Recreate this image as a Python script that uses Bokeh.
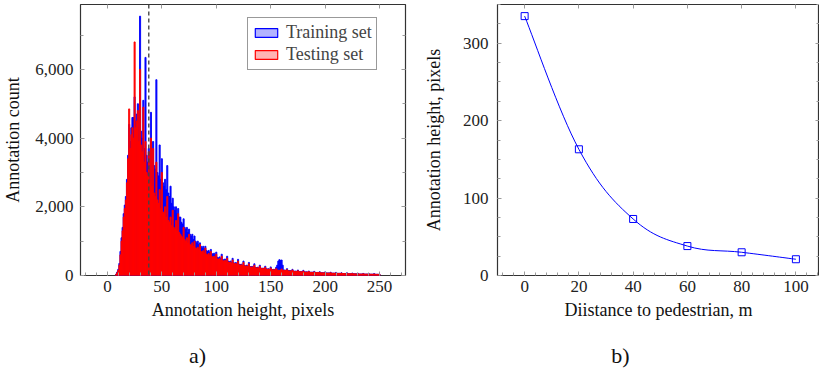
from bokeh.plotting import figure
from bokeh.layouts import row, column
from bokeh.models import (ColumnDataSource, Span, Legend, LegendItem, LinearAxis, Range1d,
                          SingleIntervalTicker, NumeralTickFormatter, Label,
                          CustomJSTickFormatter)
from bokeh.embed import file_html
from bokeh.resources import INLINE

FONT = "Liberation Serif"

# ---------------- data ----------------
# histogram: one bin per pixel of annotation height, first bin centred at bin_start
bin_start = 8
bin_width = 1
testing_counts = [
    30, 80, 150, 300, 600, 1000, 1300, 1700, 1950, 2200, 2700, 3400,
    4850, 3700, 4100, 4300, 4000, 6800, 4300, 4500, 4800, 3900,
    6000, 3800, 3600, 4900, 3300, 3900, 3000, 2900, 3600, 2700,
    4000, 2600, 3700, 2400, 2300, 3300, 2200, 2100, 2500, 1950,
    3000, 1850, 1800, 2000, 1700, 2300, 1600, 1550, 1700, 1450,
    1900, 1400, 1350, 1600, 1300, 1800, 1250, 1200, 1150, 1100,
    1400, 1050, 1000, 1100, 950, 1200, 900, 880, 950, 850,
    1000, 800, 780, 820, 750, 900, 700, 680, 720, 650,
    800, 620, 600, 640, 580, 700, 550, 530, 560, 510,
    620, 480, 470, 490, 450, 560, 430, 420, 440, 400,
    500, 390, 380, 390, 360, 450, 350, 340, 350, 320,
    420, 310, 300, 310, 290, 380, 280, 270, 280, 260,
    340, 250, 245, 250, 235, 300, 225, 220, 225, 210,
    270, 205, 200, 205, 195, 240, 185, 180, 185, 175,
    220, 170, 165, 170, 160, 200, 160, 155, 150, 155,
    190, 150, 145, 150, 140, 170, 135, 130, 135, 125,
    160, 120, 118, 120, 115, 140, 110, 108, 110, 105,
    130, 100, 98, 100, 96, 115, 92, 90, 92, 88,
    105, 85, 83, 85, 80, 95, 78, 76, 78, 74,
    90, 72, 70, 71, 68, 80, 66, 65, 66, 63,
    75, 61, 60, 61, 58, 70, 56, 55, 56, 53,
    65, 51, 50, 51, 49, 60, 47, 46, 47, 45,
    55, 43, 42, 43, 41, 50, 40, 39, 40, 38,
    48, 37, 36, 37, 35, 45, 34, 33, 34, 32,
    30,
]
training_counts = [
    40, 100, 180, 350, 700, 1100, 1400, 1800, 2050, 2300, 2800, 3500,
    4400, 3900, 4300, 4600, 4600, 5200, 4500, 4700, 5000, 4300,
    7550, 4200, 4000, 5100, 3700, 6350, 3500, 3300, 3700, 3200,
    4750, 3300, 3900, 3200, 3100, 5700, 3000, 2900, 3800, 2800,
    3400, 2700, 2600, 2800, 2500, 3200, 2400, 2300, 2600, 2100,
    2250, 2000, 1900, 2000, 1800, 1950, 1700, 1700, 1550, 1500,
    1650, 1400, 1350, 1400, 1250, 1350, 1200, 1150, 1200, 1050,
    1150, 1000, 950, 1000, 900, 950, 850, 800, 850, 780,
    850, 730, 700, 730, 680, 760, 640, 620, 650, 600,
    680, 530, 510, 540, 490, 620, 470, 450, 480, 430,
    560, 420, 400, 420, 390, 500, 370, 360, 380, 340,
    470, 330, 320, 330, 300, 420, 290, 280, 300, 270,
    380, 260, 255, 265, 245, 340, 235, 230, 240, 220,
    300, 215, 210, 215, 200, 270, 195, 190, 195, 180,
    250, 175, 175, 180, 170, 240, 300, 420, 460, 440,
    450, 300, 160, 160, 150, 200, 145, 140, 145, 135,
    180, 130, 125, 128, 120, 160, 118, 115, 118, 110,
    150, 106, 104, 106, 100, 130, 98, 95, 98, 92,
    120, 90, 88, 90, 85, 110, 82, 80, 82, 78,
    105, 76, 74, 75, 72, 95, 70, 68, 70, 66,
    90, 64, 63, 64, 61, 80, 59, 58, 59, 56,
    78, 54, 53, 54, 51, 70, 49, 48, 49, 47,
    65, 45, 44, 45, 43, 60, 42, 41, 42, 40,
    55, 39, 38, 39, 37, 55, 36, 35, 36, 34,
    32,
]
threshold_height = 38

distance_m = [0, 20, 40, 60, 80, 100]
height_px = [335, 163, 73, 38, 30, 21]

series_labels = ["Training set", "Testing set"]
panel_labels = ["a)", "b)"]

TICK_COLOR = "#9a9a9a"
FRAME_COLOR = "#333333"
BLANK = CustomJSTickFormatter(code="return ''")
MAIN_H = 340
LABEL_H = 31
W1 = 420
W2 = 399


def style_axes(p, xint, xminor, yint, yminor, ystandoff, ylabel_standoff, yfmt=None):
    xt = SingleIntervalTicker(interval=xint, num_minor_ticks=xminor)
    yt = SingleIntervalTicker(interval=yint, num_minor_ticks=yminor)
    p.add_layout(LinearAxis(ticker=xt, formatter=BLANK), "above")
    p.add_layout(LinearAxis(ticker=yt, formatter=BLANK), "right")
    p.xaxis[0].ticker = xt
    p.yaxis[0].ticker = yt
    if yfmt is not None:
        p.yaxis[0].formatter = yfmt
    for ax in p.xaxis + p.yaxis:
        ax.axis_line_color = None
        ax.major_tick_in = 4
        ax.major_tick_out = 0
        ax.minor_tick_in = 3
        ax.minor_tick_out = 0
        ax.major_tick_line_color = TICK_COLOR
        ax.minor_tick_line_color = TICK_COLOR
        ax.major_label_text_font = FONT
        ax.major_label_text_font_size = "17px"
        ax.major_label_text_color = "#222222"
        ax.axis_label_text_font = FONT
        ax.axis_label_text_font_size = "18px"
        ax.axis_label_text_font_style = "normal"
        ax.axis_label_text_color = "#111111"
    for ax in [p.above[0], p.right[0]]:
        ax.major_label_standoff = 0
    p.xaxis[0].major_label_standoff = 6
    p.xaxis[0].axis_label_standoff = 9
    p.yaxis[0].major_label_standoff = ystandoff
    p.yaxis[0].axis_label_standoff = ylabel_standoff
    p.grid.visible = False
    p.outline_line_color = FRAME_COLOR
    p.outline_line_width = 1.2
    p.background_fill_color = "white"
    p.border_fill_color = "white"


def label_strip(width, text, x_center):
    q = figure(width=width, height=LABEL_H, x_range=Range1d(0, width),
               y_range=Range1d(0, LABEL_H), output_backend="svg", toolbar_location=None,
               min_border=0, x_axis_type=None, y_axis_type=None)
    q.grid.visible = False
    q.outline_line_color = None
    q.add_layout(Label(x=x_center, y=16, text=text, text_font=FONT,
                       text_font_size="22px", text_color="#111111",
                       text_align="center", text_baseline="middle"))
    return q


# ---------------- panel a) ----------------
centers = [bin_start + i * bin_width for i in range(len(training_counts))]
src_train = ColumnDataSource(dict(
    left=[c - bin_width / 2 for c in centers], right=[c + bin_width / 2 for c in centers],
    top=training_counts, bottom=[0] * len(centers)))
src_test = ColumnDataSource(dict(
    left=[c - bin_width / 2 for c in centers], right=[c + bin_width / 2 for c in centers],
    top=testing_counts, bottom=[0] * len(centers)))

p1 = figure(width=W1, height=MAIN_H, x_range=Range1d(-24.7, 273.8), y_range=Range1d(0, 7890),
            output_backend="svg", toolbar_location=None,
            min_border_left=79, min_border_right=15, min_border_top=4, min_border_bottom=65)
p1.quad(left="left", right="right", top="top", bottom="bottom", source=src_train,
        fill_color="#0000ff", line_color="#0000ff", line_width=0.9)
p1.quad(left="left", right="right", top="top", bottom="bottom", source=src_test,
        fill_color="#ff0000", line_color="#ff0000", line_width=0.9)
p1.add_layout(Span(location=threshold_height, dimension="height", line_color="#444444",
                   line_width=1.5, line_dash="4 3", line_alpha=0.9))
p1.xaxis.axis_label = "Annotation height, pixels"
p1.yaxis.axis_label = "Annotation count"
style_axes(p1, 50, 0, 2000, 2, 7, 9, NumeralTickFormatter(format="0,0"))

nan = float("nan")
swatch = dict(left=[nan], right=[nan], top=[nan], bottom=[nan])
leg_b = p1.quad(left="left", right="right", top="top", bottom="bottom",
                source=ColumnDataSource(swatch), fill_color="#b3b3ff", line_color="#0000ff",
                line_width=1.2)
leg_r = p1.quad(left="left", right="right", top="top", bottom="bottom",
                source=ColumnDataSource(dict(swatch)), fill_color="#ffb3b3", line_color="#ff0000",
                line_width=1.2)
legend = Legend(items=[LegendItem(label=series_labels[0], renderers=[leg_b]),
                       LegendItem(label=series_labels[1], renderers=[leg_r])],
                location=(167, 205), glyph_width=28, glyph_height=11,
                label_text_font=FONT, label_text_font_size="18px", label_standoff=6,
                padding=4, spacing=1, label_height=20, margin=0,
                border_line_color=FRAME_COLOR, border_line_width=1,
                background_fill_alpha=1)
p1.add_layout(legend)

# ---------------- panel b) ----------------
p2 = figure(width=W2, height=MAIN_H, x_range=Range1d(-10, 108.7), y_range=Range1d(0, 350),
            output_backend="svg", toolbar_location=None,
            min_border_left=76, min_border_right=0, min_border_top=4, min_border_bottom=65)

k = 0.55 / 3
n = len(distance_m)
bz = dict(x0=[], y0=[], x1=[], y1=[], cx0=[], cy0=[], cx1=[], cy1=[])
for i in range(n - 1):
    ip = i - 1 if i > 0 else i
    inx = i + 2 if i + 2 < n else i + 1
    bz["x0"].append(distance_m[i]); bz["y0"].append(height_px[i])
    bz["x1"].append(distance_m[i + 1]); bz["y1"].append(height_px[i + 1])
    bz["cx0"].append(distance_m[i] + k * (distance_m[i + 1] - distance_m[ip]))
    bz["cy0"].append(height_px[i] + k * (height_px[i + 1] - height_px[ip]))
    bz["cx1"].append(distance_m[i + 1] - k * (distance_m[inx] - distance_m[i]))
    bz["cy1"].append(height_px[i + 1] - k * (height_px[inx] - height_px[i]))
p2.bezier(x0="x0", y0="y0", x1="x1", y1="y1", cx0="cx0", cy0="cy0", cx1="cx1", cy1="cy1",
          source=ColumnDataSource(bz), line_color="#0000ff", line_width=1)
p2.scatter(distance_m, height_px, marker="square", size=7, fill_color=None,
           line_color="#0000ff", line_width=1)
p2.xaxis.axis_label = "Diistance to pedestrian, m"
p2.yaxis.axis_label = "Annotation height, pixels"
style_axes(p2, 20, 0, 100, 4, 9, 16)

q1 = label_strip(W1, panel_labels[0], 197)
q2 = label_strip(W2, panel_labels[1], 200)

layout = column(row(p1, p2), row(q1, q2))
open("out.html", "w").write(file_html(layout, INLINE))
